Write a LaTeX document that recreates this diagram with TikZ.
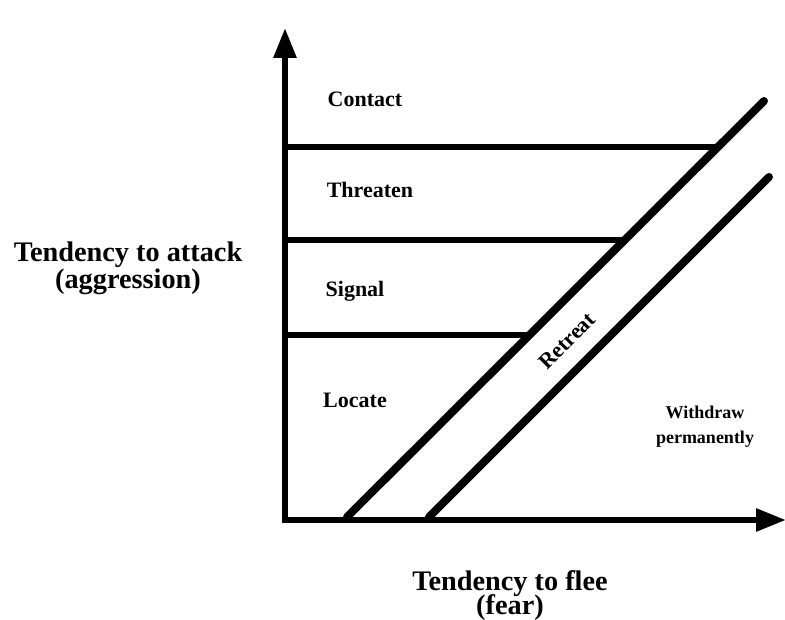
\documentclass[tikz,border=0pt]{standalone}
\usepackage{fontspec}
\setmainfont{Liberation Serif}
\usetikzlibrary{arrows.meta}
\tikzset{
  axis/.style={line width=6pt,-{Triangle[width=22pt,length=30pt]}},
  band/.style={line width=6pt},
  diag/.style={line width=8pt,line cap=round},
  zone/.style={font=\fontsize{22}{22}\selectfont\bfseries,inner sep=0pt,anchor=base},
  small/.style={font=\fontsize{18}{24}\selectfont\bfseries,inner sep=0pt,anchor=base},
  big/.style={font=\fontsize{28.3}{28}\selectfont\bfseries,inner sep=0pt,anchor=base,align=center},
}
\begin{document}
\begin{tikzpicture}[x=1pt,y=-1pt]
\useasboundingbox (0,0) rectangle (785,620);
% axis points
\coordinate (o) at (285,520);
\coordinate (ytop) at (285,28);
\coordinate (xend) at (786,520);
% band lines
\coordinate (c1a) at (285,147); \coordinate (c1b) at (718,147);
\coordinate (c2a) at (285,240); \coordinate (c2b) at (625,240);
\coordinate (c3a) at (285,335); \coordinate (c3b) at (530,335);
\draw[band] (c1a) -- (c1b);
\draw[band] (c2a) -- (c2b);
\draw[band] (c3a) -- (c3b);
% diagonals
\coordinate (d1a) at (347,517); \coordinate (d1b) at (764,101);
\coordinate (d2a) at (429,517); \coordinate (d2b) at (769,177);
\draw[diag] (d1a) -- (d1b);
\draw[diag] (d2a) -- (d2b);
% axes
\draw[axis] ([yshift=3pt]o) -- (ytop);
\draw[axis] ([xshift=-3pt]o) -- (xend);
% labels
\node[zone] (contact) at (365,107) {Contact};
\node[zone] (threaten) at (370,198) {Threaten};
\node[zone] (signal) at (355,297) {Signal};
\node[zone] (locate) at (355,407) {Locate};
\node[zone,anchor=center,rotate=45] (retreat) at (567,341) {Retreat};
\node[small] (withdraw) at (705,418) {Withdraw};
\node[small] (perm) at (705,443) {permanently};
\node[big] (att1) at (128,262) {Tendency to attack};
\node[big] (att2) at (128,289) {(aggression)};
\node[big] (flee1) at (510,590) {Tendency to flee};
\node[big] (flee2) at (510,614) {(fear)};
\end{tikzpicture}
\end{document}
